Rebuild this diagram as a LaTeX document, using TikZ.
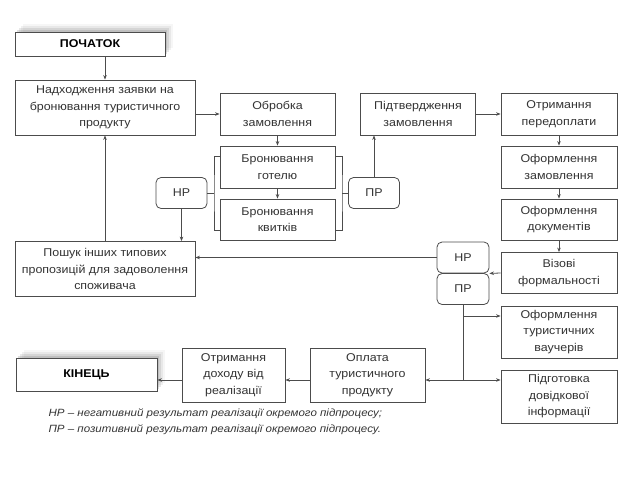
\documentclass[tikz,border=0pt]{standalone}
\usepackage{fontspec}
\setmainfont{Liberation Sans}
\newfontfamily\boxfont[FakeStretch=1.1]{Liberation Sans}
\usetikzlibrary{shadows,arrows.meta,calc}

\colorlet{linecol}{black!70}
\colorlet{textcol}{black!80}

\tikzset{
    box/.style={draw=linecol, line width=0.8pt, fill=white, text=textcol,
        align=center, inner sep=2pt, font=\boxfont\fontsize{11.3}{16.5}\selectfont},
    stepbox/.style={box, minimum width=115pt, minimum height=42pt},
    widebox/.style={box, minimum width=180pt, minimum height=55pt},
    result/.style={box, rounded corners=5pt, minimum width=51pt, minimum height=31pt},
    term/.style={box, minimum width=150pt, minimum height=24pt,
        font=\boxfont\fontsize{11.3}{13}\selectfont\bfseries, text=black,
        drop shadow={shadow xshift=8pt, shadow yshift=8pt, opacity=0.07},
        drop shadow={shadow xshift=6pt, shadow yshift=6pt, opacity=0.12},
        drop shadow={shadow xshift=4pt, shadow yshift=4pt, opacity=0.18},
        drop shadow={shadow xshift=2pt, shadow yshift=2pt, opacity=0.25}},
    line/.style={draw=linecol, line width=0.8pt},
    arr/.style={line, -{Stealth[length=4.5pt,width=3.5pt]}}
}

\begin{document}
\begin{tikzpicture}[x=1pt, y=-1pt]
    \useasboundingbox (0, 0) rectangle (640, 480);

    % left column
    \node (start) [term] at (90, 44) {ПОЧАТОК};
    \node (nadh) [widebox] at (105, 107.5) {Надходження заявки на\\бронювання туристичного\\продукту};
    \node (poshuk) [widebox] at (105, 269) {Пошук інших типових\\пропозицій для задоволення\\споживача};

    % booking
    \node (obr) [stepbox] at (277.5, 114) {Обробка\\замовлення};
    \node (hotel) [stepbox] at (277.5, 167) {Бронювання\\готелю};
    \node (ticket) [stepbox, minimum height=41pt] at (277.5, 219.5) {Бронювання\\квитків};
    \node (nrl) [result] at (181.5, 193) {НР};
    \node (prl) [result] at (374, 193) {ПР};
    \node (pidt) [stepbox] at (418, 114) {Підтвердження\\замовлення};

    % right column
    \node (predopl) [stepbox, minimum width=116pt] at (559, 114) {Отримання\\передоплати};
    \node (ofzam) [stepbox, minimum width=116pt] at (559, 167) {Оформлення\\замовлення};
    \node (ofdoc) [stepbox, minimum width=116pt, minimum height=41pt] at (559, 219.5) {Оформлення\\документів};
    \node (viza) [stepbox, minimum width=116pt, minimum height=41pt] at (559, 273) {Візові\\формальності};
    \node (nrr) [result, minimum width=52pt] at (463, 257.5) {НР};
    \node (prr) [result, minimum width=52pt] at (463, 289) {ПР};
    \node (vauch) [stepbox, minimum width=116pt, minimum height=52pt] at (559, 332) {Оформлення\\туристичних\\ваучерів};
    \node (pidg) [stepbox, minimum width=116pt, minimum height=53pt] at (559, 396.5) {Підготовка\\довідкової\\інформації};

    % bottom row
    \node (opl) [stepbox, minimum height=54pt] at (367.5, 375) {Оплата\\туристичного\\продукту};
    \node (dohid) [stepbox, minimum width=103pt, minimum height=54pt] at (233.5, 375) {Отримання\\доходу від\\реалізації};
    \node (end) [term, minimum width=141pt, minimum height=33pt] at (86.5, 374.5) {КІНЕЦЬ};

    % brackets and junctions
    \coordinate (brl) at (214, 193);
    \coordinate (brr) at (342, 193);
    \coordinate (jv) at (463, 316);
    \coordinate (jp) at (463, 380);

    % connectors
    \draw [arr] (nadh.north |- start.south) -- (nadh.north);
    \draw [arr] (nadh.east |- obr) -- (obr.west);
    \draw [arr] (obr) -- (hotel);
    \draw [arr] (hotel) -- (ticket);
    \draw [line] ($(hotel.north west)+(0, 11)$) -| (brl) |- ($(ticket.south west)+(0, -10)$);
    \draw [line] ($(hotel.north east)+(0, 11)$) -| (brr) |- ($(ticket.south east)+(0, -10)$);
    \draw [line] (nrl.east) -- (brl);
    \draw [line] (prl.west) -- (brr);
    \draw [arr] (nrl.south) -- (nrl.south |- poshuk.north);
    \draw [arr] (poshuk.north) -- (nadh.south);
    \draw [arr] (prl.north) -- (prl.north |- pidt.south);
    \draw [arr] (pidt) -- (predopl);
    \draw [arr] (predopl) -- (ofzam);
    \draw [arr] (ofzam) -- (ofdoc);
    \draw [arr] (ofdoc) -- (viza);
    \draw [arr] (viza.west) -- (nrr.south east);
    \draw [arr] (nrr.west) -- (nrr.west -| poshuk.east);
    \draw [line] (prr.south) -- (jp);
    \draw [arr] (jv) -- (jv -| vauch.west);
    \draw [arr] (jp) -- (jp -| pidg.west);
    \draw [arr] (jp) -- (jp -| opl.east);
    \draw [arr] (jp -| opl.west) -- (jp -| dohid.east);
    \draw [arr] (jp -| dohid.west) -- (jp -| end.east);

    % legend
    \node (leg) [anchor=north west, align=left, text=textcol,
        font=\boxfont\fontsize{10.5}{16}\selectfont\itshape] at (45, 405)
        {НР – негативний результат реалізації окремого підпроцесу;\\
         ПР – позитивний результат реалізації окремого підпроцесу.};
\end{tikzpicture}
\end{document}
